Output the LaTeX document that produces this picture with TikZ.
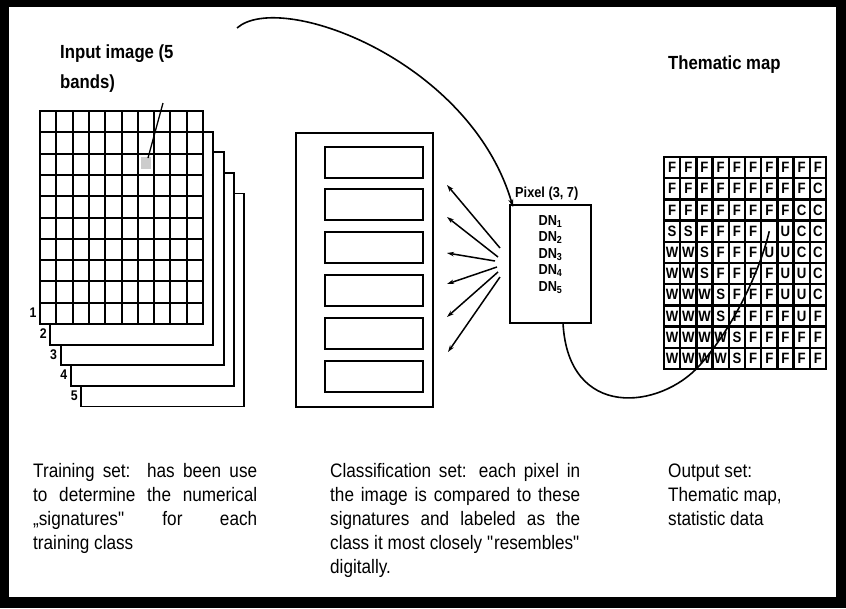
\documentclass[tikz,border=0pt]{standalone}
\usepackage{fontspec}
\setmainfont{Liberation Sans}
\newfontfamily\narrowfont[FakeStretch=0.88]{Liberation Sans}
\usetikzlibrary{arrows.meta,calc}
\begin{document}
\begin{tikzpicture}[x=1pt,y=-1pt,
  layerbox/.style={draw, line width=1.8pt, fill=white, minimum width=163pt, minimum height=213pt, anchor=north west, inner sep=0pt, outer sep=0pt},
  gridline/.style={line width=2pt},
  mapline/.style={line width=2.4pt},
  numlabel/.style={font=\fontsize{14}{14}\selectfont\narrowfont\bfseries, inner sep=0pt},
  titletext/.style={font=\fontsize{19}{22}\selectfont\narrowfont\bfseries, anchor=base west, inner sep=0pt},
  smallbold/.style={font=\fontsize{14.5}{16}\selectfont\narrowfont\bfseries, inner sep=0pt},
  bodytext/.style={font=\fontsize{19.5}{24}\selectfont\narrowfont, anchor=base west, inner sep=0pt},
  boxline/.style={draw, line width=1.9pt, anchor=north west, inner sep=0pt, outer sep=0pt},
  sigbox/.style={boxline, minimum width=98pt, minimum height=31pt},
  fanarrow/.style={line width=1.5pt, -{Stealth[length=7pt,width=4.5pt]}},
  connector/.style={line width=1.6pt},
  maplet/.style={font=\fontsize{15}{15}\selectfont\narrowfont\bfseries, inner sep=0pt}]
\useasboundingbox (0,0) rectangle (846,608);
% frame
\fill[black] (0,0) rectangle (846,608);
\fill[white] (9,7) rectangle (836,597);

% input image stack
\foreach \k in {5,4,3,2,1} {
  \node[layerbox] (L\k) at ({40+10.3*(\k-1)},{111+20.6*(\k-1)}) {};
  \node[numlabel] (n\k) at ($(L\k.south west)+(-7,-11)$) {\k};
}
\foreach \i in {1,...,9}
  \draw[gridline] ($(L1.north west)+(\i*16.3,0)$) -- ($(L1.south west)+(\i*16.3,0)$);
\foreach \j in {1,...,9}
  \draw[gridline] ($(L1.north west)+(0,\j*21.3)$) -- ($(L1.north east)+(0,\j*21.3)$);
\fill[gray!40] (141,157) rectangle (151,169);
\coordinate (ptrA) at (163,103);
\coordinate (ptrB) at (148,158);
\draw[line width=1.3pt] (ptrA) -- (ptrB);

% titles
\node[titletext] (inlbl1) at (60,58) {Input image (5};
\node[titletext] (inlbl2) at (60,88) {bands)};
\node[titletext] (thlbl) at (668,69) {Thematic map};

% classification set
\node[boxline, minimum width=137pt, minimum height=274pt] (cls) at (296,133) {};
\foreach \t [count=\q] in {147,189,232,275,318,361}
  \node[sigbox] (s\q) at (325,\t) {};

% pixel box
\node[boxline, minimum width=81pt, minimum height=118pt, fill=white] (pix) at (510,205) {};
\node[smallbold, anchor=base west] (pixlbl) at (515,197) {Pixel (3, 7)};
\foreach \b [count=\q] in {225,241.5,258,274.5,291}
  \node[smallbold, anchor=base] (dn\q) at (550.5,\b) {DN\textsubscript{\q}};

% fan arrows
\foreach \sx/\sy/\tx/\ty [count=\q] in {500/248/447/185, 498/257/447/217, 495/261/447/253, 497/267/447/284, 498/272/447/317, 500/277/448/352} {
  \coordinate (fs\q) at (\sx,\sy);
  \coordinate (ft\q) at (\tx,\ty);
  \draw[fanarrow] (fs\q) -- (ft\q);
}

% big arc
\coordinate (arcA) at (237,28);
\draw[connector, -{Stealth[length=8pt,width=5pt]}] (arcA) .. controls (280,-10) and (470,60) .. ($(pix.north west)+(3,2)$);

% thematic map
\node[boxline, line width=2.6pt, minimum width=162pt, minimum height=212pt] (map) at (664,157) {};
\foreach \i in {1,...,9}
  \draw[mapline] ($(map.north west)+(\i*16.2,0)$) -- ($(map.south west)+(\i*16.2,0)$);
\foreach \j in {1,...,9}
  \draw[mapline] ($(map.north west)+(0,\j*21.2)$) -- ($(map.north east)+(0,\j*21.2)$);
\foreach \r/\row in {
  1/{F,F,F,F,F,F,F,F,F,F},
  2/{F,F,F,F,F,F,F,F,F,C},
  3/{F,F,F,F,F,F,F,F,C,C},
  4/{S,S,F,F,F,F,{},U,C,C},
  5/{W,W,S,F,F,F,U,U,C,C},
  6/{W,W,S,F,F,F,F,U,U,C},
  7/{W,W,W,S,F,F,F,U,U,C},
  8/{W,W,W,S,F,F,F,F,U,F},
  9/{W,W,W,W,S,F,F,F,F,F},
  10/{W,W,W,W,S,F,F,F,F,F}} {
  \foreach \L [count=\c] in \row
    \node[maplet] (m\r-\c) at ({664+(\c-0.5)*16.2},{157+(\r-0.5)*21.2}) {\L};
}

% connector pixel -> map
\draw[connector] ($(pix.south)+(12.5,0)$) .. controls (568,420) and (660,410) .. (700,365) .. controls (735,325) and (760,270) .. (m4-7.center);

% bottom texts
\node[bodytext] (t11) at (33,477) {\makebox[224pt][s]{Training set:\ \ has been use}};
\node[bodytext] (t12) at (33,501) {\makebox[224pt][s]{to determine the numerical}};
\node[bodytext] (t13) at (33,525) {\makebox[224pt][s]{„signatures\textquotedbl{} for each}};
\node[bodytext] (t14) at (33,549) {training class};

\node[bodytext] (t21) at (330,477) {\makebox[250pt][s]{Classification set: each pixel in}};
\node[bodytext] (t22) at (330,501) {\makebox[250pt][s]{the image is compared to these}};
\node[bodytext] (t23) at (330,525) {\makebox[250pt][s]{signatures and labeled as the}};
\node[bodytext] (t24) at (330,549) {\makebox[250pt][s]{class it most closely \textquotedbl resembles\textquotedbl}};
\node[bodytext] (t25) at (330,573) {digitally.};

\node[bodytext] (t31) at (668,477) {Output set:};
\node[bodytext] (t32) at (668,501) {Thematic map,};
\node[bodytext] (t33) at (668,525) {statistic data};
\end{tikzpicture}
\end{document}
